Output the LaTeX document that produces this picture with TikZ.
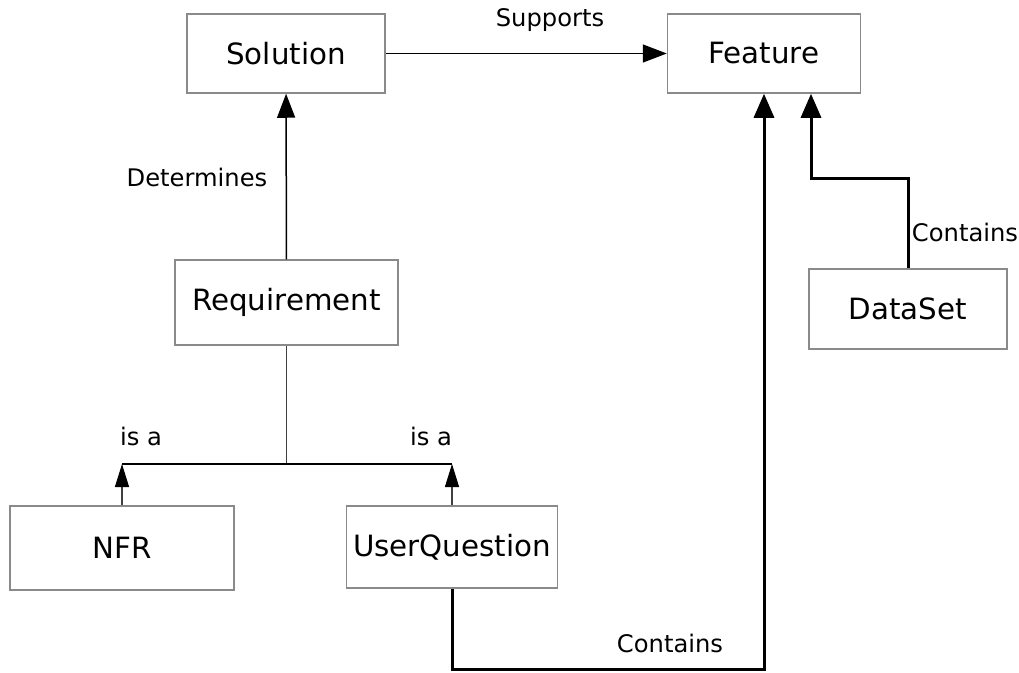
\documentclass[tikz,border=0pt]{standalone}
\usepackage{fontspec}
\setmainfont{DejaVu Sans}
\usetikzlibrary{arrows.meta}
\begin{document}
\begin{tikzpicture}[x=1pt,y=-1pt,
  box/.style={draw=boxgray,line width=1.5pt,inner sep=0pt,font=\fontsize{29.3}{31}\selectfont,fill=white},
  lbl/.style={inner sep=0pt,font=\fontsize{24.2}{26}\selectfont},
  conn/.style={line width=1.5pt,black},
  isaline/.style={line width=1.2pt,black!75},
  cont/.style={line width=3pt,black},
  tip/.style={-{Triangle[length=24pt,width=18pt]}},
  smalltip/.style={-{Triangle[length=23pt,width=14pt,fill=black,color=black]}},
  bigtip/.style={-{Triangle[length=24pt,width=20pt]}}
]
\definecolor{boxgray}{HTML}{8A8A8A}
\useasboundingbox (0,0) rectangle (1019,672);
\fill[white] (0,0) rectangle (1019,672);

\node[box,minimum width=198pt,minimum height=79pt] (sol) at (286,53.5) {Solution};
\node[box,minimum width=193pt,minimum height=79pt] (feat) at (764,53.5) {Feature};
\node[box,minimum width=223pt,minimum height=85pt] (req) at (286.5,302.5) {Requirement};
\node[box,minimum width=224pt,minimum height=84pt] (nfr) at (122,548) {NFR};
\node[box,minimum width=211pt,minimum height=82pt] (uq) at (452,547) {UserQuestion};
\node[box,minimum width=198pt,minimum height=80pt] (ds) at (908,309) {DataSet};

\node[lbl] (lsup) at (550,20) {Supports};
\node[lbl] (ldet) at (197,177) {Determines};
\node[lbl] (lisa1) at (141,436) {is a};
\node[lbl] (lisa2) at (431,436) {is a};
\node[lbl] (lcon1) at (670,643) {Contains};
\node[lbl] (lcon2) at (965,232) {Contains};

\draw[conn,tip] (sol) -- (feat);
\draw[conn,tip] (req) -- (sol);

\coordinate (j) at (286.5,464);
\coordinate (jl) at (122,464);
\coordinate (jr) at (452,464);
\draw[isaline] (req.south) -- (j);
\draw[conn,line width=1.3pt] (jl) -- (jr);
\draw[isaline,smalltip] (nfr.north) -- (jl);
\draw[isaline,smalltip] (uq.north) -- (jr);

\coordinate (b1) at (764,669.5);
\draw[cont,bigtip] (uq.south) |- (b1) -- (feat.south);

\coordinate (k) at (811,178);
\draw[cont,bigtip] (ds.north) |- (k) -- (k |- feat.south);
\end{tikzpicture}
\end{document}
